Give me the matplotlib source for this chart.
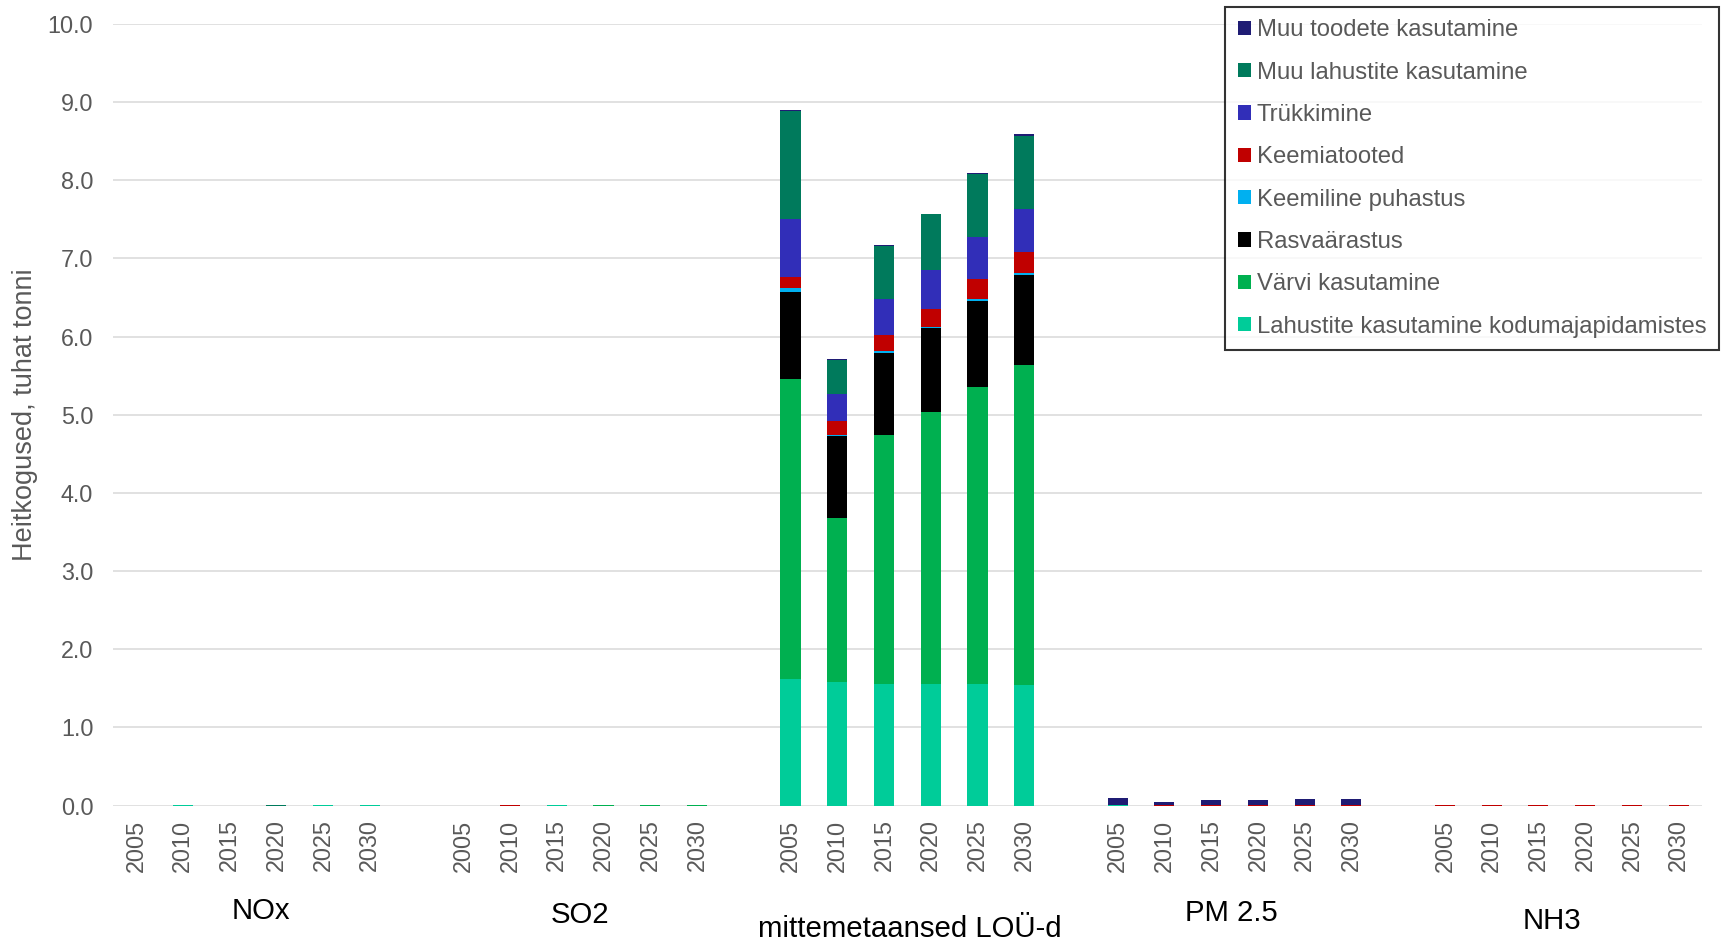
import matplotlib
matplotlib.use("Agg")
import matplotlib.pyplot as plt
from matplotlib.patches import Patch
from matplotlib.transforms import blended_transform_factory
import numpy as np

plt.rcParams['font.family'] = ['Liberation Sans', 'DejaVu Sans']

# Categories
pollutants = ["NOx", "SO2", "mittemetaansed LOÜ-d", "PM 2.5", "NH3"]
years = ["2005", "2010", "2015", "2020", "2025", "2030"]

# Series values, thousand tonnes; 6 years per pollutant in the order above
lahustite_kodu = [0, 0.012, 0, 0, 0.012, 0.012,
                  0, 0, 0.012, 0, 0, 0,
                  1.62, 1.584, 1.562, 1.562, 1.554, 1.545,
                  0.003, 0, 0, 0, 0, 0,
                  0, 0, 0, 0, 0, 0]
varvi = [0, 0, 0, 0, 0, 0,
         0, 0, 0, 0.005, 0.005, 0.005,
         3.842, 2.096, 3.183, 3.475, 3.803, 4.098,
         0, 0, 0, 0, 0, 0,
         0, 0, 0, 0, 0, 0]
rasva = [0, 0, 0, 0, 0, 0,
         0, 0, 0, 0, 0, 0,
         1.105, 1.045, 1.045, 1.07, 1.104, 1.142,
         0, 0, 0, 0, 0, 0,
         0, 0, 0, 0, 0, 0]
keemiline_puhastus = [0, 0, 0, 0, 0, 0,
                      0, 0, 0, 0, 0, 0,
                      0.06, 0.015, 0.03, 0.017, 0.026, 0.025,
                      0, 0, 0, 0, 0, 0,
                      0, 0, 0, 0, 0, 0]
keemiatooted = [0, 0, 0, 0, 0, 0,
                0, 0.01, 0, 0.006, 0.006, 0.006,
                0.137, 0.18, 0.2, 0.236, 0.256, 0.275,
                0.008, 0.004, 0.006, 0.008, 0.008, 0.008,
                0.005, 0.01, 0.01, 0.01, 0.01, 0.01]
trukkimine = [0, 0, 0, 0, 0, 0,
              0, 0, 0, 0, 0, 0,
              0.743, 0.35, 0.46, 0.495, 0.527, 0.551,
              0, 0, 0, 0, 0, 0,
              0, 0, 0, 0, 0, 0]
muu_lahustite = [0, 0, 0, 0.012, 0, 0,
                 0, 0, 0, 0, 0, 0,
                 1.383, 0.436, 0.677, 0.712, 0.817, 0.934,
                 0, 0, 0, 0, 0, 0,
                 0, 0, 0, 0, 0, 0]
muu_toodete = [0, 0, 0, 0, 0, 0,
               0, 0, 0, 0, 0, 0,
               0.016, 0.01, 0.013, 0.008, 0.013, 0.017,
               0.088, 0.038, 0.062, 0.065, 0.073, 0.073,
               0.008, 0, 0, 0, 0, 0]

# Stack order bottom -> top
series = [
    ("Lahustite kasutamine kodumajapidamistes", lahustite_kodu, "#00CC99"),
    ("Värvi kasutamine", varvi, "#00B050"),
    ("Rasvaärastus", rasva, "#000000"),
    ("Keemiline puhastus", keemiline_puhastus, "#00B0F0"),
    ("Keemiatooted", keemiatooted, "#C00000"),
    ("Trükkimine", trukkimine, "#312EB8"),
    ("Muu lahustite kasutamine", muu_lahustite, "#007A5C"),
    ("Muu toodete kasutamine", muu_toodete, "#1F1C74"),
]

W, H = 1725, 943
fig = plt.figure(figsize=(W / 100, H / 100), dpi=100)
left, right, top, bottom = 112.7, 1702, 24, 805.6
ax = fig.add_axes([left / W, 1 - bottom / H, (right - left) / W, (bottom - top) / H])

# one empty slot between pollutant groups
n_years = len(years)
positions = np.array([g * (n_years + 1) + i
                      for g in range(len(pollutants)) for i in range(n_years)], dtype=float)

base = np.zeros(len(positions))
for name, vals, col in series:
    v = np.array(vals, dtype=float)
    ax.bar(positions, v, bottom=base, width=0.43, color=col, linewidth=0, zorder=3)
    base += v

ax.set_xlim(-0.5, len(pollutants) * (n_years + 1) - 1.5)
ax.set_ylim(0, 10)
ax.set_yticks(np.arange(0, 10.01, 1.0))
ax.set_yticklabels([f"{t:.1f}" for t in np.arange(0, 10.01, 1.0)])
ax.yaxis.grid(True, color="#D9D9D9", linewidth=1.1, zorder=0)
ax.set_axisbelow(True)
for s in ax.spines.values():
    s.set_visible(False)

ax.set_xticks(positions)
ax.set_xticklabels(years * len(pollutants), rotation=90)
ax.tick_params(axis="x", length=0, pad=10, labelsize=16.8, labelcolor="#595959")
ax.tick_params(axis="y", length=0, pad=14, labelsize=16.8, labelcolor="#595959")

# pollutant group labels under the year labels
trans = blended_transform_factory(ax.transData, fig.transFigure)
label_y = [911, 915, 929, 913, 921]
label_dx = [0.17, 0.0, 0.05, -0.07, -0.2]
for g, name in enumerate(pollutants):
    xc = g * (n_years + 1) + (n_years - 1) / 2 + label_dx[g]
    ax.text(xc, 1 - label_y[g] / H, name, transform=trans, ha="center", va="center",
            fontsize=21.2, color="#000000")

fig.text(25 / W, 1 - 415 / H, "Heitkogused, tuhat tonni", rotation=90,
         ha="center", va="center", fontsize=19.5, color="#595959")

handles = [Patch(facecolor=col, edgecolor="none", label=name) for name, _, col in series][::-1]
leg = fig.legend(handles=handles, loc="upper right", bbox_to_anchor=(1719 / W, 1 - 7 / H),
                 bbox_transform=fig.transFigure, fontsize=17.2, frameon=True, fancybox=False,
                 handlelength=0.55, handleheight=0.55, handletextpad=0.25, labelspacing=0.85,
                 borderpad=0.52, borderaxespad=0)
leg.get_frame().set_edgecolor("#000000")
leg.get_frame().set_linewidth(1.5)
for t in leg.get_texts():
    t.set_color("#595959")

fig.savefig("out.png", dpi=100)
